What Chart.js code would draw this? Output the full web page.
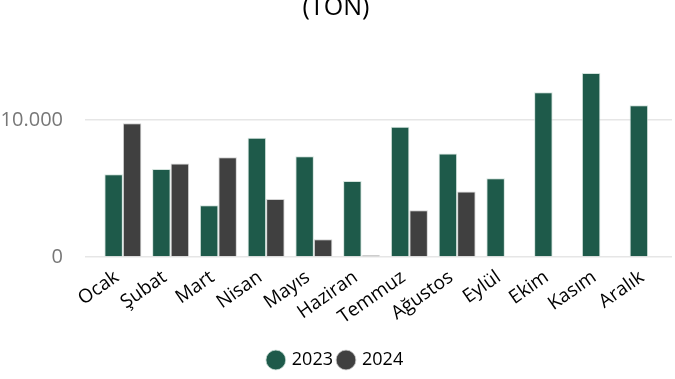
<!DOCTYPE html>
<html>
<head>
<meta charset="utf-8">
<script src="https://cdn.jsdelivr.net/npm/chart.js@4.4.0/dist/chart.umd.min.js"></script>
<style>
    html, body { margin: 0; padding: 0; background: #fff; }
    #wrap { width: 675px; height: 379px; overflow: hidden; position: relative; }
    #chart { position: absolute; left: 0; top: -7px; }
</style>
</head>
<body>
<div id="wrap"><canvas id="chart" width="675" height="386"></canvas></div>
<script>
const months = ['Ocak', 'Şubat', 'Mart', 'Nisan', 'Mayıs', 'Haziran', 'Temmuz', 'Ağustos', 'Eylül', 'Ekim', 'Kasım', 'Aralık'];
const sales2023 = [6030, 6420, 3770, 8690, 7350, 5550, 9490, 7540, 5740, 12020, 13410, 11070];
const sales2024 = [9760, 6810, 7280, 4230, 1290, 120, 3410, 4770, null, null, null, null];
const yTicks = [0, 10000];

const ctx = document.getElementById('chart').getContext('2d');

new Chart(ctx, {
    type: 'bar',
    data: {
        labels: months,
        datasets: [
            {
                label: '2023',
                data: sales2023,
                backgroundColor: '#1e5a4a',
                borderColor: 'rgba(200, 220, 212, 0.8)',
                borderWidth: 1,
                categoryPercentage: 0.775,
                barPercentage: 1
            },
            {
                label: '2024',
                data: sales2024,
                backgroundColor: '#404040',
                borderColor: 'rgba(200, 200, 200, 0.8)',
                borderWidth: 1,
                categoryPercentage: 0.775,
                barPercentage: 1
            }
        ]
    },
    options: {
        responsive: false,
        animation: false,
        layout: {
            padding: { left: 0, right: 3, top: 0, bottom: 0 }
        },
        plugins: {
            title: {
                display: true,
                text: '(TON)',
                color: '#000',
                font: { family: 'Open Sans', size: 25, weight: 'normal' },
                padding: { top: 0, bottom: 42 }
            },
            legend: {
                display: true,
                position: 'bottom',
                labels: {
                    usePointStyle: true,
                    pointStyle: 'circle',
                    boxWidth: 14,
                    boxHeight: 14,
                    color: '#000',
                    font: { family: 'Open Sans', size: 18 },
                    padding: 6
                }
            },
            tooltip: { enabled: false }
        },
        scales: {
            x: {
                grid: { display: false },
                border: { display: false },
                ticks: {
                    color: '#000',
                    font: { family: 'Open Sans', size: 19 },
                    minRotation: 35,
                    maxRotation: 35,
                    autoSkip: false,
                    padding: 1,
                    labelOffset: -6
                },
                afterFit: function(scale) { scale.height = 88; }
            },
            y: {
                min: 0,
                max: 14000,
                afterBuildTicks: function(scale) {
                    scale.ticks = yTicks.map(v => ({ value: v }));
                },
                grid: {
                    color: '#e6e6e6',
                    lineWidth: 1.5,
                    drawTicks: true,
                    tickLength: 14,
                    tickColor: '#e6e6e6'
                },
                border: { display: false },
                ticks: {
                    color: '#777',
                    font: { family: 'Open Sans', size: 20 },
                    padding: 22,
                    callback: function(value) {
                        return value.toLocaleString('tr-TR');
                    }
                },
                afterFit: function(scale) { scale.width = 99; }
            }
        }
    }
});
</script>
</body>
</html>
